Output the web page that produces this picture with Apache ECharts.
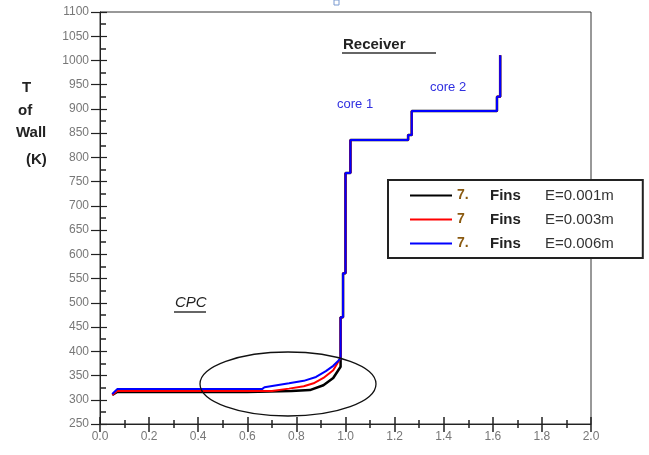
<!DOCTYPE html>
<html lang="en">
<head>
<meta charset="UTF-8">
<title>T of Wall</title>
<script src="https://cdn.jsdelivr.net/npm/echarts@6/dist/echarts.min.js"></script>
<style>
  html, body { margin: 0; padding: 0; background: #fff; }
  #main { width: 649px; height: 455px; }
</style>
</head>
<body>
<div id="main"></div>
<script>
// low part (CPC) of each curve, then the common rise through the receiver
const blackX = [0.05, 0.07, 0.60, 0.78, 0.855, 0.91, 0.95, 0.98];
const blackT = [310, 316, 316, 318, 320, 330, 345, 368];
const redX = [0.05, 0.07, 0.70, 0.77, 0.83, 0.87, 0.91, 0.95, 0.97, 0.98];
const redT = [310, 318, 318, 323, 328, 334, 345, 361, 378, 386];
const blueX = [0.05, 0.07, 0.66, 0.67, 0.77, 0.83, 0.88, 0.92, 0.95, 0.97, 0.98];
const blueT = [312, 322, 322, 326, 334, 339, 347, 359, 370, 380, 386];
const riseX = [0.98, 0.98, 0.99, 0.99, 1.00, 1.00, 1.02, 1.02, 1.255, 1.255, 1.27, 1.27, 1.617, 1.617, 1.63, 1.63];
const riseT = [386, 470, 470, 561, 561, 768, 768, 836, 836, 846, 846, 896, 896, 925, 925, 1011];

const seriesNames = ['7.  Fins  E=0.001m', '7  Fins  E=0.003m', '7.  Fins  E=0.006m'];
const seriesColors = ['#000000', '#ff0000', '#0000ff'];

function pairs(xs, ts) {
    let out = [];
    for (let i = 0; i < xs.length; i++) out.push([xs[i], ts[i]]);
    for (let i = 0; i < riseX.length; i++) out.push([riseX[i], riseT[i]]);
    return out;
}

let myChart = echarts.init(document.getElementById('main'));

const tickColor = '#222';
const labelStyle = { color: '#777', fontSize: 12, fontFamily: 'Liberation Sans' };

let option = {
    backgroundColor: '#fff',
    animation: false,
    grid: { left: 100, top: 12, right: 58, bottom: 31, show: true, borderColor: '#333', borderWidth: 1 },
    legend: {
        orient: 'vertical',
        left: 388, top: 180,
        padding: [8, 29, 7, 22],
        icon: 'rect',
        itemWidth: 42, itemHeight: 2, itemGap: 9,
        borderColor: '#222', borderWidth: 2,
        backgroundColor: '#fff',
        data: seriesNames,
        formatter: function (name) {
            let p = name.split('  ');
            return '{a|' + p[0] + '}{b|' + p[1] + '}{c|' + p[2] + '}';
        },
        textStyle: {
            rich: {
                a: { color: '#8a5a10', fontSize: 14, fontWeight: 'bold', width: 33, height: 16, fontFamily: 'Liberation Sans' },
                b: { color: '#222', fontSize: 15, fontWeight: 'bold', width: 55, height: 16, fontFamily: 'Liberation Sans' },
                c: { color: '#333', fontSize: 15, height: 16, fontFamily: 'Liberation Sans' }
            }
        }
    },
    xAxis: [{
        type: 'value', min: 0, max: 2, interval: 0.2,
        axisLine: { lineStyle: { color: tickColor, width: 1 } },
        axisTick: { length: 8, lineStyle: { color: tickColor, width: 1.5 } },
        minorTick: { show: true, splitNumber: 2, length: 4, lineStyle: { color: tickColor, width: 1.5 } },
        axisLabel: Object.assign({ margin: 7, formatter: v => v.toFixed(1) }, labelStyle),
        splitLine: { show: false }
    }, {
        type: 'value', min: 0, max: 2, interval: 0.2, position: 'bottom',
        axisLine: { show: false },
        axisTick: { inside: true, length: 7, lineStyle: { color: tickColor, width: 1.5 } },
        minorTick: { show: true, splitNumber: 2, length: 4, lineStyle: { color: tickColor, width: 1.5 } },
        axisLabel: { show: false },
        splitLine: { show: false }
    }],
    yAxis: [{
        type: 'value', min: 250, max: 1100, interval: 50,
        axisLine: { lineStyle: { color: tickColor, width: 1 } },
        axisTick: { length: 9, lineStyle: { color: tickColor, width: 1.2 } },
        minorTick: { show: false },
        axisLabel: Object.assign({ margin: 11, formatter: v => String(v) }, labelStyle),
        splitLine: { show: false }
    }, {
        type: 'value', min: 250, max: 1100, interval: 50, position: 'left',
        axisLine: { show: false },
        axisTick: { inside: true, length: 7, lineStyle: { color: tickColor, width: 1.2 } },
        minorTick: { show: true, splitNumber: 2, length: 6, lineStyle: { color: tickColor, width: 1.5 } },
        axisLabel: { show: false },
        splitLine: { show: false }
    }],
    series: [
        { name: seriesNames[0], type: 'line', symbol: 'none', data: pairs(blackX, blackT),
          lineStyle: { color: seriesColors[0], width: 2.5 }, itemStyle: { color: seriesColors[0] }, z: 3 },
        { name: seriesNames[1], type: 'line', symbol: 'none', data: pairs(redX, redT),
          lineStyle: { color: seriesColors[1], width: 2 }, itemStyle: { color: seriesColors[1] }, z: 4 },
        { name: seriesNames[2], type: 'line', symbol: 'none', data: pairs(blueX, blueT),
          lineStyle: { color: seriesColors[2], width: 2 }, itemStyle: { color: seriesColors[2] }, z: 5 }
    ],
    graphic: [
        // y axis title
        { type: 'text', left: 22, top: 80, style: { text: 'T', font: 'bold 15px Liberation Sans', fill: '#222' } },
        { type: 'text', left: 18, top: 103, style: { text: 'of', font: 'bold 15px Liberation Sans', fill: '#222' } },
        { type: 'text', left: 16, top: 125, style: { text: 'Wall', font: 'bold 15px Liberation Sans', fill: '#222' } },
        { type: 'text', left: 26, top: 152, style: { text: '(K)', font: 'bold 15px Liberation Sans', fill: '#222' } },
        // labels in the plot
        { type: 'text', left: 343, top: 37, style: { text: 'Receiver', font: 'bold 15px Liberation Sans', fill: '#222' } },
        { type: 'line', shape: { x1: 342, y1: 53, x2: 436, y2: 53 }, style: { stroke: '#333', lineWidth: 1.5 } },
        { type: 'text', left: 337, top: 98, style: { text: 'core 1', font: '13px Liberation Sans', fill: '#3030e0' } },
        { type: 'text', left: 430, top: 81, style: { text: 'core 2', font: '13px Liberation Sans', fill: '#3030e0' } },
        { type: 'text', left: 175, top: 295, style: { text: 'CPC', font: 'italic 15px Liberation Sans', fill: '#222' } },
        { type: 'line', shape: { x1: 174, y1: 312, x2: 206, y2: 312 }, style: { stroke: '#333', lineWidth: 1.5 } },
        { type: 'ellipse', shape: { cx: 288, cy: 384, rx: 88, ry: 32 }, style: { fill: 'none', stroke: '#111', lineWidth: 1.3 }, z: 10 },
        { type: 'rect', shape: { x: 334, y: 0, width: 5, height: 5 }, style: { fill: 'none', stroke: '#7a9ad0', lineWidth: 1 } }
    ]
};
myChart.setOption(option);
</script>
</body>
</html>
